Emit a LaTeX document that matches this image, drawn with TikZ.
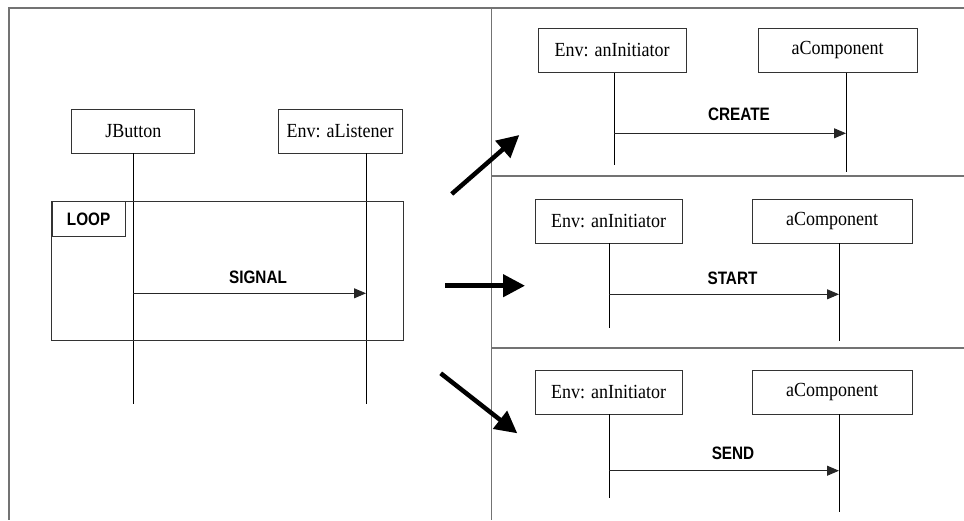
\documentclass[tikz,border=0pt]{standalone}
\usepackage{fontspec}
\setmainfont{Liberation Serif}[FakeStretch=0.9]
\newfontfamily\msgfont{Liberation Sans}[FakeStretch=0.85]
\usetikzlibrary{arrows.meta}

\tikzset{
  frameline/.style={draw=black!55, line width=1.3pt},
  obj/.style={draw=black!80, line width=0.8pt, inner sep=0pt, minimum height=44pt,
    font=\fontsize{20}{20}\selectfont},
  lifeline/.style={draw=black, line width=0.8pt},
  msg/.style={draw=black!85, line width=0.9pt, -{Triangle[length=12pt,width=10pt]}},
  msglabel/.style={font=\msgfont\bfseries\fontsize{18}{18}\selectfont, inner sep=0pt},
  fragment/.style={draw=black!80, line width=0.8pt},
  bigarrow/.style={draw=black, line width=4.5pt, -{Triangle[length=22pt,width=22pt]}}
}

\begin{document}
\begin{tikzpicture}[x=1pt,y=-1pt]
\useasboundingbox (0,0) rectangle (964,520);

% outer frame and panel dividers
\draw[frameline] (964,8) -- (9,8) -- (9,520);
\draw[frameline] (491.5,8) -- (491.5,520);
\draw[frameline] (491.5,176) -- (964,176);
\draw[frameline] (491.5,348) -- (964,348);

% ---------- left: looping signal ----------
\node[obj, minimum width=123pt] (jb) at (133.3,131) {JButton};
\node[obj, minimum width=124pt] (al) at (340,131) {Env: aListener};
\coordinate (jbend) at (133,404);
\coordinate (alend) at (366,404);
\draw[lifeline] (jb.south -| jbend) -- (jbend);
\draw[lifeline] (al.south -| alend) -- (alend);

\draw[fragment] (51.5,201) rectangle (403,340);
\node[fragment, draw, minimum width=73.5pt, minimum height=35pt, inner sep=0pt,
  anchor=north west] (loop) at (51.5,201) {};
\node[msglabel] (looplbl) at (loop.center) {LOOP};

\coordinate (sigA) at (133,293.3);
\coordinate (sigB) at (366,293.3);
\draw[msg] (sigA) -- (sigB);
\node[msglabel] (siglbl) at (258,277) {SIGNAL};

% ---------- top right: create ----------
\node[obj, minimum width=148pt] (i1) at (612,50.5) {Env: anInitiator};
\node[obj, minimum width=159pt] (c1) at (837.5,50.5) {aComponent};
\coordinate (i1end) at (614,165);
\coordinate (c1end) at (846,172);
\draw[lifeline] (i1.south -| i1end) -- (i1end);
\draw[lifeline] (c1.south -| c1end) -- (c1end);
\coordinate (m1a) at (614,133.3);
\coordinate (m1b) at (846,133.3);
\draw[msg] (m1a) -- (m1b);
\node[msglabel] (m1lbl) at (739,114.5) {CREATE};

% ---------- middle right: start ----------
\node[obj, minimum width=147pt] (i2) at (608.5,221) {Env: anInitiator};
\node[obj, minimum width=160pt] (c2) at (832,221) {aComponent};
\coordinate (i2end) at (609,328);
\coordinate (c2end) at (839,341);
\draw[lifeline] (i2.south -| i2end) -- (i2end);
\draw[lifeline] (c2.south -| c2end) -- (c2end);
\coordinate (m2a) at (609,294.3);
\coordinate (m2b) at (839,294.3);
\draw[msg] (m2a) -- (m2b);
\node[msglabel] (m2lbl) at (732.5,278.3) {START};

% ---------- bottom right: send ----------
\node[obj, minimum width=147pt] (i3) at (608.5,392) {Env: anInitiator};
\node[obj, minimum width=160pt] (c3) at (832,392) {aComponent};
\coordinate (i3end) at (609,498);
\coordinate (c3end) at (839,512);
\draw[lifeline] (i3.south -| i3end) -- (i3end);
\draw[lifeline] (c3.south -| c3end) -- (c3end);
\coordinate (m3a) at (609,470.7);
\coordinate (m3b) at (839,470.7);
\draw[msg] (m3a) -- (m3b);
\node[msglabel] (m3lbl) at (733,453.3) {SEND};

% ---------- transition arrows ----------
\coordinate (t1s) at (451.7,194);
\coordinate (t1e) at (519.3,135);
\coordinate (t2s) at (445,285.7);
\coordinate (t2e) at (525,285.7);
\coordinate (t3s) at (440.7,373.3);
\coordinate (t3e) at (517.3,433.3);
\draw[bigarrow] (t1s) -- (t1e);
\draw[bigarrow] (t2s) -- (t2e);
\draw[bigarrow] (t3s) -- (t3e);
\end{tikzpicture}
\end{document}
